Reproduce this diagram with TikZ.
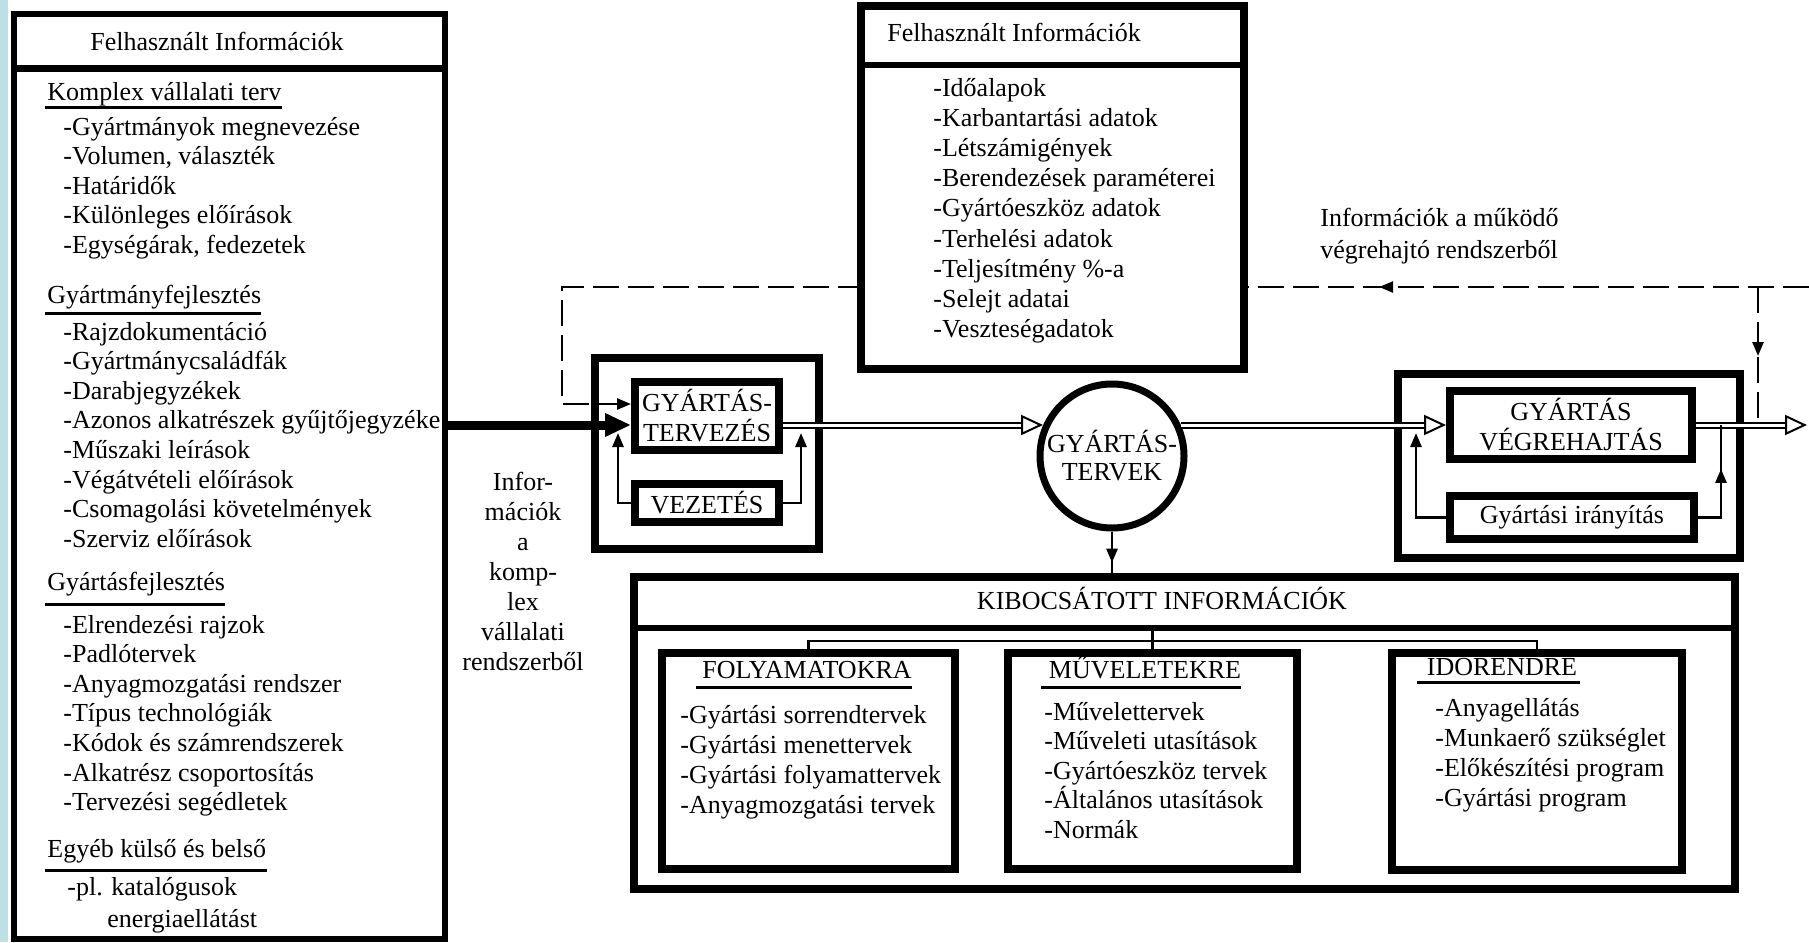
\documentclass[tikz,border=0pt]{standalone}
\usepackage{fontspec}
\setmainfont{Liberation Serif}
\usetikzlibrary{positioning}
\usetikzlibrary{calc}
\usetikzlibrary{arrows.meta}
\usetikzlibrary{decorations.markings}
\definecolor{stripblue}{RGB}{188,224,228}
\tikzset{
    panel/.style = {rectangle, draw=black, line width=3pt, fill=white, inner sep=0pt},
    frame/.style = {rectangle, draw=black, line width=4pt, fill=white, inner sep=0pt},
    box/.style = {rectangle, draw=black, line width=4pt, fill=white, align=center, inner sep=0pt, font=\fontsize{13}{15}\selectfont},
    ring/.style = {circle, draw=black, line width=3.5pt, fill=white, align=center, inner sep=0pt, minimum size=72pt, font=\fontsize{13}{14}\selectfont},
    hdr/.style = {anchor=base, inner sep=0pt, font=\fontsize{13}{15}\selectfont},
    ttl/.style = {anchor=base west, inner sep=0pt, font=\fontsize{13}{15}\selectfont},
    lst/.style = {anchor=base west, align=left, inner sep=0pt, font=\fontsize{13}{14.8}\selectfont}, % placed at last line
    sep/.style = {line width=3.5pt},
    uline/.style = {line width=1.5pt},
    edgew/.style = {-{Triangle[length=13pt,width=11pt]}, line width=4.5pt},
    edged/.style = {double, line width=1pt, double distance=1.5pt},
    tipo/.style = {-{Triangle[open,length=11pt,width=10pt]}, line width=1pt},
    edgen/.style = {-{Triangle[length=7pt,width=5.5pt]}, line width=1.3pt},
    edgel/.style = {line width=1.3pt},
    edgedash/.style = {line width=1.3pt, dash pattern=on 13pt off 4.5pt}, % feedback
    midtip/.style = {postaction={decorate}, decoration={markings, mark=at position #1 with {\arrow{Triangle[length=7pt,width=5.5pt]}}}}
}
\begin{document}
\begin{tikzpicture}[x=0.5pt,y=-0.5pt]
\useasboundingbox (0,0) rectangle (1809,942);
\fill[stripblue] (0,0) rectangle (8,942);
%
% left panel
\node[panel, minimum width=215.5pt, minimum height=462.5pt] at (229.5,476.5) (lbox) {};
\coordinate (lsep) at ($(lbox.north west)+(0,-28.5pt)$);
\draw[sep] (lsep) -- (lsep -| lbox.east);
\node[hdr] at (217,50) (lhead) {Felhasznált Információk};
%
\node[ttl] at (47,100) (komp) {Komplex vállalati terv};
\draw[uline] ($(komp.base west)+(-1pt,-3.5pt)$) -- ($(komp.base east)+(0,-3.5pt)$);
\node[lst] at (63,253.4) (kompl) {-Gyártmányok megnevezése\\-Volumen, választék\\-Határidők\\-Különleges előírások\\-Egységárak, fedezetek};
%
\node[ttl] at (47,303) (gyfj) {Gyártmányfejlesztés};
\draw[uline] ($(gyfj.base west)+(-1pt,-5pt)$) -- ($(gyfj.base east)+(0,-5pt)$);
\node[lst] at (63,547.2) (gyfjl) {-Rajzdokumentáció\\-Gyártmánycsaládfák\\-Darabjegyzékek\\-Azonos alkatrészek gyűjtőjegyzéke\\-Műszaki leírások\\-Végátvételi előírások\\-Csomagolási követelmények\\-Szerviz előírások};
%
\node[ttl] at (47,590) (gyaf) {Gyártásfejlesztés};
\draw[uline] ($(gyaf.base west)+(-1pt,-7pt)$) -- ($(gyaf.base east)+(0,-7pt)$);
\node[lst] at (63,810.6) (gyafl) {-Elrendezési rajzok\\-Padlótervek\\-Anyagmozgatási rendszer\\-Típus technológiák\\-Kódok és számrendszerek\\-Alkatrész csoportosítás\\-Tervezési segédletek};
%
\node[ttl] at (47,857) (egyeb) {Egyéb külső és belső};
\draw[uline] ($(egyeb.base west)+(-1pt,-6.5pt)$) -- ($(egyeb.base east)+(0,-6.5pt)$);
\node[lst, font=\fontsize{13}{16}\selectfont] at (67,927) (egyebl) {-pl. katalógusok\\\hspace*{20pt}energiaellátást};
%
% middle blocks
\node[frame, minimum width=112pt, minimum height=95.5pt] at (707,453.5) (gyto) {};
\node[box, minimum width=72pt, minimum height=34pt] at (707,416) (gyt) {GYÁRTÁS-\\TERVEZÉS};
\node[box, minimum width=72pt, minimum height=19pt] at (707,503) (vez) {VEZETÉS};
\node[ring] at (1112,456) (terv) {GYÁRTÁS-\\TERVEK};
\node[frame, minimum width=171pt, minimum height=92pt] at (1569,466) (gveo) {};
\node[box, minimum width=121pt, minimum height=34pt] at (1571,425) (gve) {GYÁRTÁS\\VÉGREHAJTÁS};
\node[box, minimum width=122pt, minimum height=21.5pt] at (1572,517.5) (gir) {Gyártási irányítás};
%
\node[align=center, anchor=base, inner sep=0pt, font=\fontsize{13}{15}\selectfont] at (523,670) (infk) {Infor-\\mációk\\a\\komp-\\lex\\vállalati\\rendszerből};
\node[lst, font=\fontsize{13}{16}\selectfont] at (1320,258) (infv) {Információk a működő\\végrehajtó rendszerből};
%
% output block
\node[frame, minimum width=550.5pt, minimum height=156pt] at (1184.5,733) (kib) {};
\coordinate (ksep) at ($(kib.north west)+(0,-27.5pt)$);
\draw[sep, line width=3pt] (ksep) -- (ksep -| kib.east);
\node[hdr] at (1162,609) (kibh) {KIBOCSÁTOTT INFORMÁCIÓK};
\node[frame, minimum width=146.5pt, minimum height=108pt] at (808.5,761) (foly) {};
\node[frame, minimum width=144.5pt, minimum height=108pt] at (1152.5,761) (muv) {};
\node[frame, minimum width=145pt, minimum height=108.5pt] at (1537,761.5) (ido) {};
%
\node[hdr] at (807,678) (folyt) {FOLYAMATOKRA};
\draw[uline] ($(folyt.base west)+(-3pt,-4.5pt)$) -- ($(folyt.base east)+(0,-4.5pt)$);
\node[lst, font=\fontsize{13}{15}\selectfont] at (680,813) (folyl) {-Gyártási sorrendtervek\\-Gyártási menettervek\\-Gyártási folyamattervek\\-Anyagmozgatási tervek};
\node[hdr] at (1145,678) (muvt) {MŰVELETEKRE};
\draw[uline] ($(muvt.base west)+(-4pt,-4.5pt)$) -- ($(muvt.base east)+(0,-4.5pt)$);
\node[lst] at (1044,838.4) (muvl) {-Művelettervek\\-Műveleti utasítások\\-Gyártóeszköz tervek\\-Általános utasítások\\-Normák};
\node[hdr] at (1502,675) (idot) {IDŐRENDRE};
\draw[uline] ($(idot.base west)+(-5pt,-3.5pt)$) -- ($(idot.base east)+(1pt,-3.5pt)$);
\node[lst, font=\fontsize{13}{15}\selectfont] at (1435,806) (idol) {-Anyagellátás\\-Munkaerő szükséglet\\-Előkészítési program\\-Gyártási program};
%
% dashed feedback
\coordinate (ax) at (0,425);
\coordinate (fbr) at (1809,287);
\coordinate (fbl) at (562,287);
\coordinate (fbv) at (1758,287);
\draw[edgedash, -{Triangle[length=7pt,width=5.5pt]}, midtip=0.3] (fbr) -- (fbl) |- ($(gyt.west)+(0,6pt)$);
\draw[edgedash, midtip=0.5] (fbv) -- (fbv |- ax);
%
% top panel
\node[frame, minimum width=191.5pt, minimum height=181.5pt] at (1052.5,187.5) (tbox) {};
\coordinate (tsep) at ($(tbox.north west)+(0,-31.5pt)$);
\draw[sep, line width=3pt] (tsep) -- (tsep -| tbox.east);
\node[hdr] at (1014,41) (thead) {Felhasznált Információk};
\node[lst, font=\fontsize{13}{15.1}\selectfont] at (933,337.6) (tlist) {-Időalapok\\-Karbantartási adatok\\-Létszámigények\\-Berendezések paraméterei\\-Gyártóeszköz adatok\\-Terhelési adatok\\-Teljesítmény \%-a\\-Selejt adatai\\-Veszteségadatok};
%
% main flow
\draw[edgew] (lbox.east |- ax) -- (gyt.west |- ax);
\draw[tipo] (gyt.east |- ax) -- (ax -| terv.156);
\draw[edged, shorten >=11pt] (gyt.east |- ax) -- (ax -| terv.156);
\draw[tipo] (ax -| terv.24) -- (gve.west |- ax);
\draw[edged, shorten >=11pt] (ax -| terv.24) -- (gve.west |- ax);
\coordinate (out) at (1807,425);
\draw[tipo] (gve.east |- ax) -- (out);
\draw[edged, shorten >=11pt] (gve.east |- ax) -- (out);
%
\draw[edgen, shorten >=4pt] (vez.west) -| ($(gyt.west |- ax)+(-6.5pt,0)$);
\draw[edgen, shorten >=4pt] (vez.east) -| ($(gyt.east |- ax)+(9pt,0)$);
\draw[edgen, shorten >=4pt] (gir.west) -| ($(gve.west |- ax)+(-15pt,0)$);
\draw[edgel, midtip=0.62] (gir.east) -| ($(gve.east |- ax)+(12.5pt,0)$);
%
\draw[edgel, midtip=0.75] (terv.south) -- (kib.north -| terv.south);
\coordinate (bus) at (0,641);
\draw[edgel] (ksep -| muv.north) -- (muv.north);
\draw[edgel] (foly.north) |- (bus -| ido.north) -- (ido.north);

\end{tikzpicture}
\end{document}
